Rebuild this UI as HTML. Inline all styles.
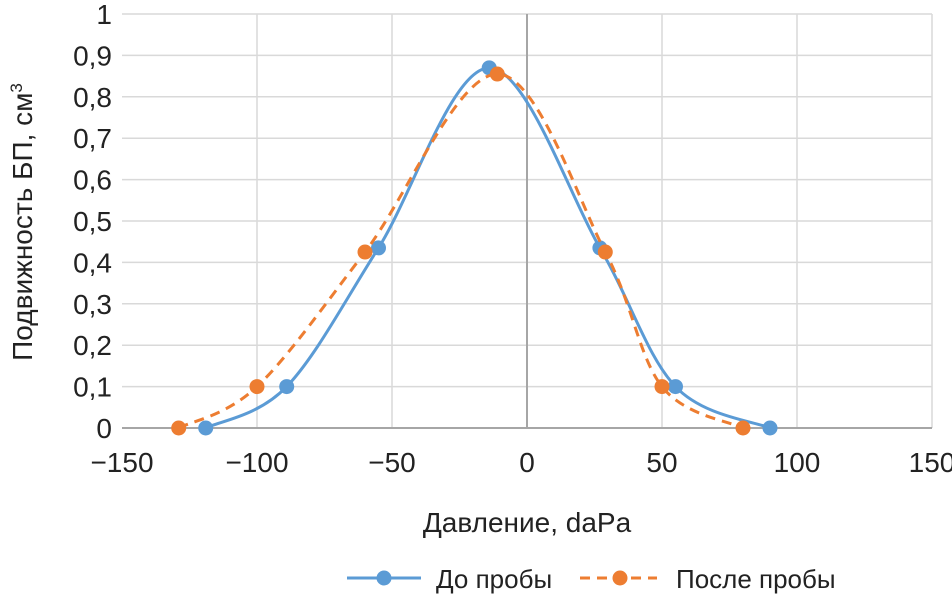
<!DOCTYPE html>
<html><head><meta charset="utf-8"><style>
html,body{margin:0;padding:0;background:#fff}
svg{display:block}
text{font-family:"Liberation Sans Narrow","Liberation Sans",sans-serif;fill:#222}
</style></head><body>
<svg id="chart" width="952" height="606" viewBox="0 0 952 606" xmlns="http://www.w3.org/2000/svg">
<g id="grid"></g>
<g id="axes"></g>
<g id="series"></g>
<text transform="translate(32,222) rotate(-90)" text-anchor="middle" font-size="28">Подвижность БП, см<tspan font-size="17" dy="-10">3</tspan></text>
<text x="527" y="532" text-anchor="middle" font-size="28">Давление, daPa</text>
<g>
<g>
<line x1="347" y1="578" x2="421" y2="578" stroke="#5b9bd5" stroke-width="3"/>
<circle cx="384" cy="578" r="7.5" fill="#5b9bd5"/>
<text x="436" y="588" font-size="26">До пробы</text>
</g>
<g>
<line x1="580" y1="578" x2="657" y2="578" stroke="#ed7d31" stroke-width="3" stroke-dasharray="10,7"/>
<circle cx="620" cy="578" r="7.5" fill="#ed7d31"/>
<text x="676" y="588" font-size="26">После пробы</text>
</g>
</g>
</svg>
<script>
const xTicks=[-150,-100,-50,0,50,100,150];
const xTickLabels=["\u2212150","\u2212100","\u221250","0","50","100","150"];
const yTicks=[0,0.1,0.2,0.3,0.4,0.5,0.6,0.7,0.8,0.9,1];
const yTickLabels=["0","0,1","0,2","0,3","0,4","0,5","0,6","0,7","0,8","0,9","1"];
const beforeX=[-119,-89,-55,-14,27,55,90];
const beforeY=[0,0.1,0.435,0.87,0.435,0.1,0];
const afterX=[-129,-100,-60,-11,29,50,80];
const afterY=[0,0.1,0.425,0.855,0.425,0.1,0];

const NS="http://www.w3.org/2000/svg";
const L=122,R=932,T=14,B=428;
function sx(v){return L+(v+150)/300*(R-L);}
function sy(v){return B-v*(B-T);}
function mk(tag,attrs,parent){const e=document.createElementNS(NS,tag);for(const k in attrs)e.setAttribute(k,attrs[k]);parent.appendChild(e);return e;}
const grid=document.getElementById('grid'),axes=document.getElementById('axes'),series=document.getElementById('series');
yTicks.forEach((t,i)=>{
  if(t>0){const g=mk('line',{x1:L,x2:R,y1:sy(t),y2:sy(t),stroke:'#d9d9d9','stroke-width':1.5},grid);
  
  }
  const tx=mk('text',{x:112,y:sy(t)+10,'text-anchor':'end','font-size':28},axes);
  tx.textContent=yTickLabels[i];
  
  
});
xTicks.forEach((t,i)=>{
  if(t!==0&&t!==-150){const g=mk('line',{x1:sx(t),x2:sx(t),y1:T,y2:B,stroke:'#d9d9d9','stroke-width':1.5},grid);
  
  }
  const tx=mk('text',{x:sx(t),y:472,'text-anchor':'middle','font-size':28},axes);
  tx.textContent=xTickLabels[i];
  
  
});
const xa=mk('line',{x1:L,x2:R,y1:B,y2:B,stroke:'#a6a6a6','stroke-width':2},axes);


const ya=mk('line',{x1:sx(0),x2:sx(0),y1:T,y2:B,stroke:'#a6a6a6','stroke-width':2},axes);



function smooth(pts){
  let d='M'+pts[0][0]+','+pts[0][1];const t=0.5/3*2;
  for(let i=0;i<pts.length-1;i++){
    const p0=pts[i-1]||pts[i],p1=pts[i],p2=pts[i+1],p3=pts[i+2]||p2;
    const c1=[p1[0]+(p2[0]-p0[0])*t/2,p1[1]+(p2[1]-p0[1])*t/2];
    const c2=[p2[0]-(p3[0]-p1[0])*t/2,p2[1]-(p3[1]-p1[1])*t/2];
    d+=' C'+c1+' '+c2+' '+p2;
  }
  return d;
}
function draw(xs,ys,color,dash,name){
  const pts=xs.map((x,i)=>[sx(x),sy(ys[i])]);
  const p=mk('path',{d:smooth(pts),fill:'none',stroke:color,'stroke-width':3},series);
  if(dash)p.setAttribute('stroke-dasharray',dash);
  
  
  pts.forEach(q=>{
    const c=mk('circle',{cx:q[0],cy:q[1],r:7.5,fill:color},series);
    
    
  });
}
draw(beforeX,beforeY,'#5b9bd5',null,'before-series');
draw(afterX,afterY,'#ed7d31','10,7','after-series');
</script>
</body></html>
